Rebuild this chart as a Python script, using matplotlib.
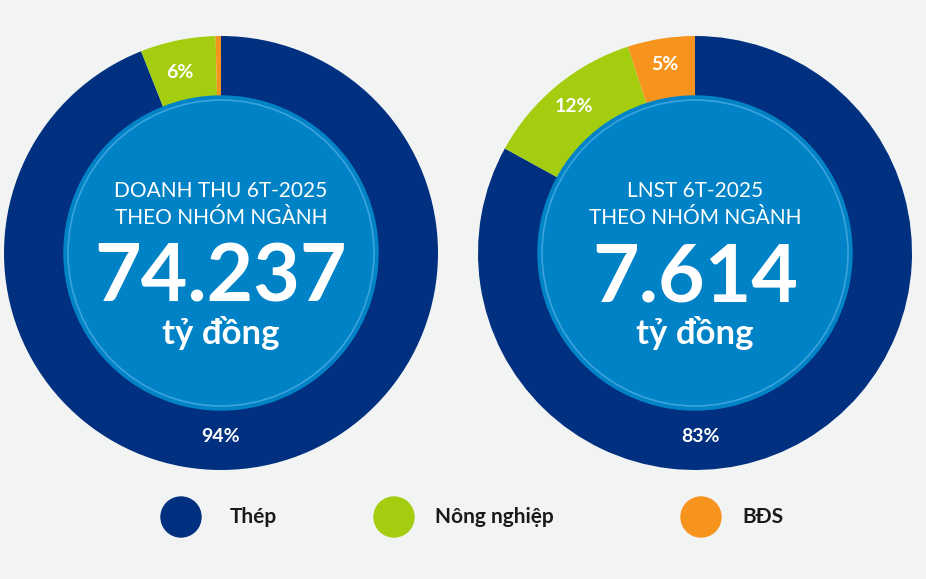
import matplotlib.pyplot as plt
from matplotlib.patches import Circle

# data
categories = ['Thép', 'Nông nghiệp', 'BĐS']
revenue_share = [94, 5.6, 0.4]
profit_share = [83, 12, 5]
revenue_labels = ['94%', '6%', '']
profit_labels = ['83%', '12%', '5%']

colors = ['#00307f', '#a5cd0f', '#f7941d']
bg = '#f2f4f4'
center_blue = '#0083c6'

plt.rcParams['font.family'] = 'Lato'

fig = plt.figure(figsize=(9.26, 5.79), dpi=100, facecolor=bg)
ax = fig.add_axes([0, 0, 1, 1])


def donut(cx, cy, shares, labels, line1, number, label_pos):
    # y axis is flipped, so counterclock in data = clockwise on screen, starting at top
    ax.pie(shares, colors=colors, startangle=-90, counterclock=True,
           center=(cx, cy), radius=217, frame=True,
           wedgeprops=dict(width=60, linewidth=0))
    ax.add_patch(Circle((cx, cy), 157, color=center_blue, zorder=3))
    ax.add_patch(Circle((cx, cy), 153, fill=False, ec='#3aa3dd', lw=1.2, zorder=4))
    ax.text(cx, cy - 62, line1, ha='center', va='center', color='white', fontsize=15, zorder=5)
    ax.text(cx, cy - 35, 'THEO NHÓM NGÀNH', ha='center', va='center', color='white', fontsize=15, zorder=5)
    ax.text(cx, cy + 25, number, ha='center', va='center', color='white', fontsize=58,
            fontweight='bold', zorder=5)
    ax.text(cx, cy + 80, 'tỷ đồng', ha='center', va='center', color='white', fontsize=25,
            fontweight='bold', zorder=5)
    for lab, (x, y) in zip(labels, label_pos):
        if lab:
            ax.text(x, y, lab, ha='center', va='center', color='white', fontsize=14,
                    fontweight='bold', zorder=5)


donut(221, 253, revenue_share, revenue_labels, 'DOANH THU 6T-2025', '74.237',
      [(221, 437), (180, 73), (0, 0)])
donut(695, 253, profit_share, profit_labels, 'LNST 6T-2025', '7.614',
      [(700, 437), (574, 107), (665, 65)])

# legend
for (cx, tx), name, c in zip([(181, 230), (394, 435), (701, 742)], categories, colors):
    ax.add_patch(Circle((cx, 517), 20, color=c))
    ax.text(tx, 517, name, ha='left', va='center', fontsize=15, fontweight='bold', color='#1a1a1a')

ax.set_xlim(0, 926)
ax.set_ylim(579, 0)
ax.set_aspect('equal')
ax.axis('off')

fig.savefig('out.png', dpi=100, facecolor=bg)
